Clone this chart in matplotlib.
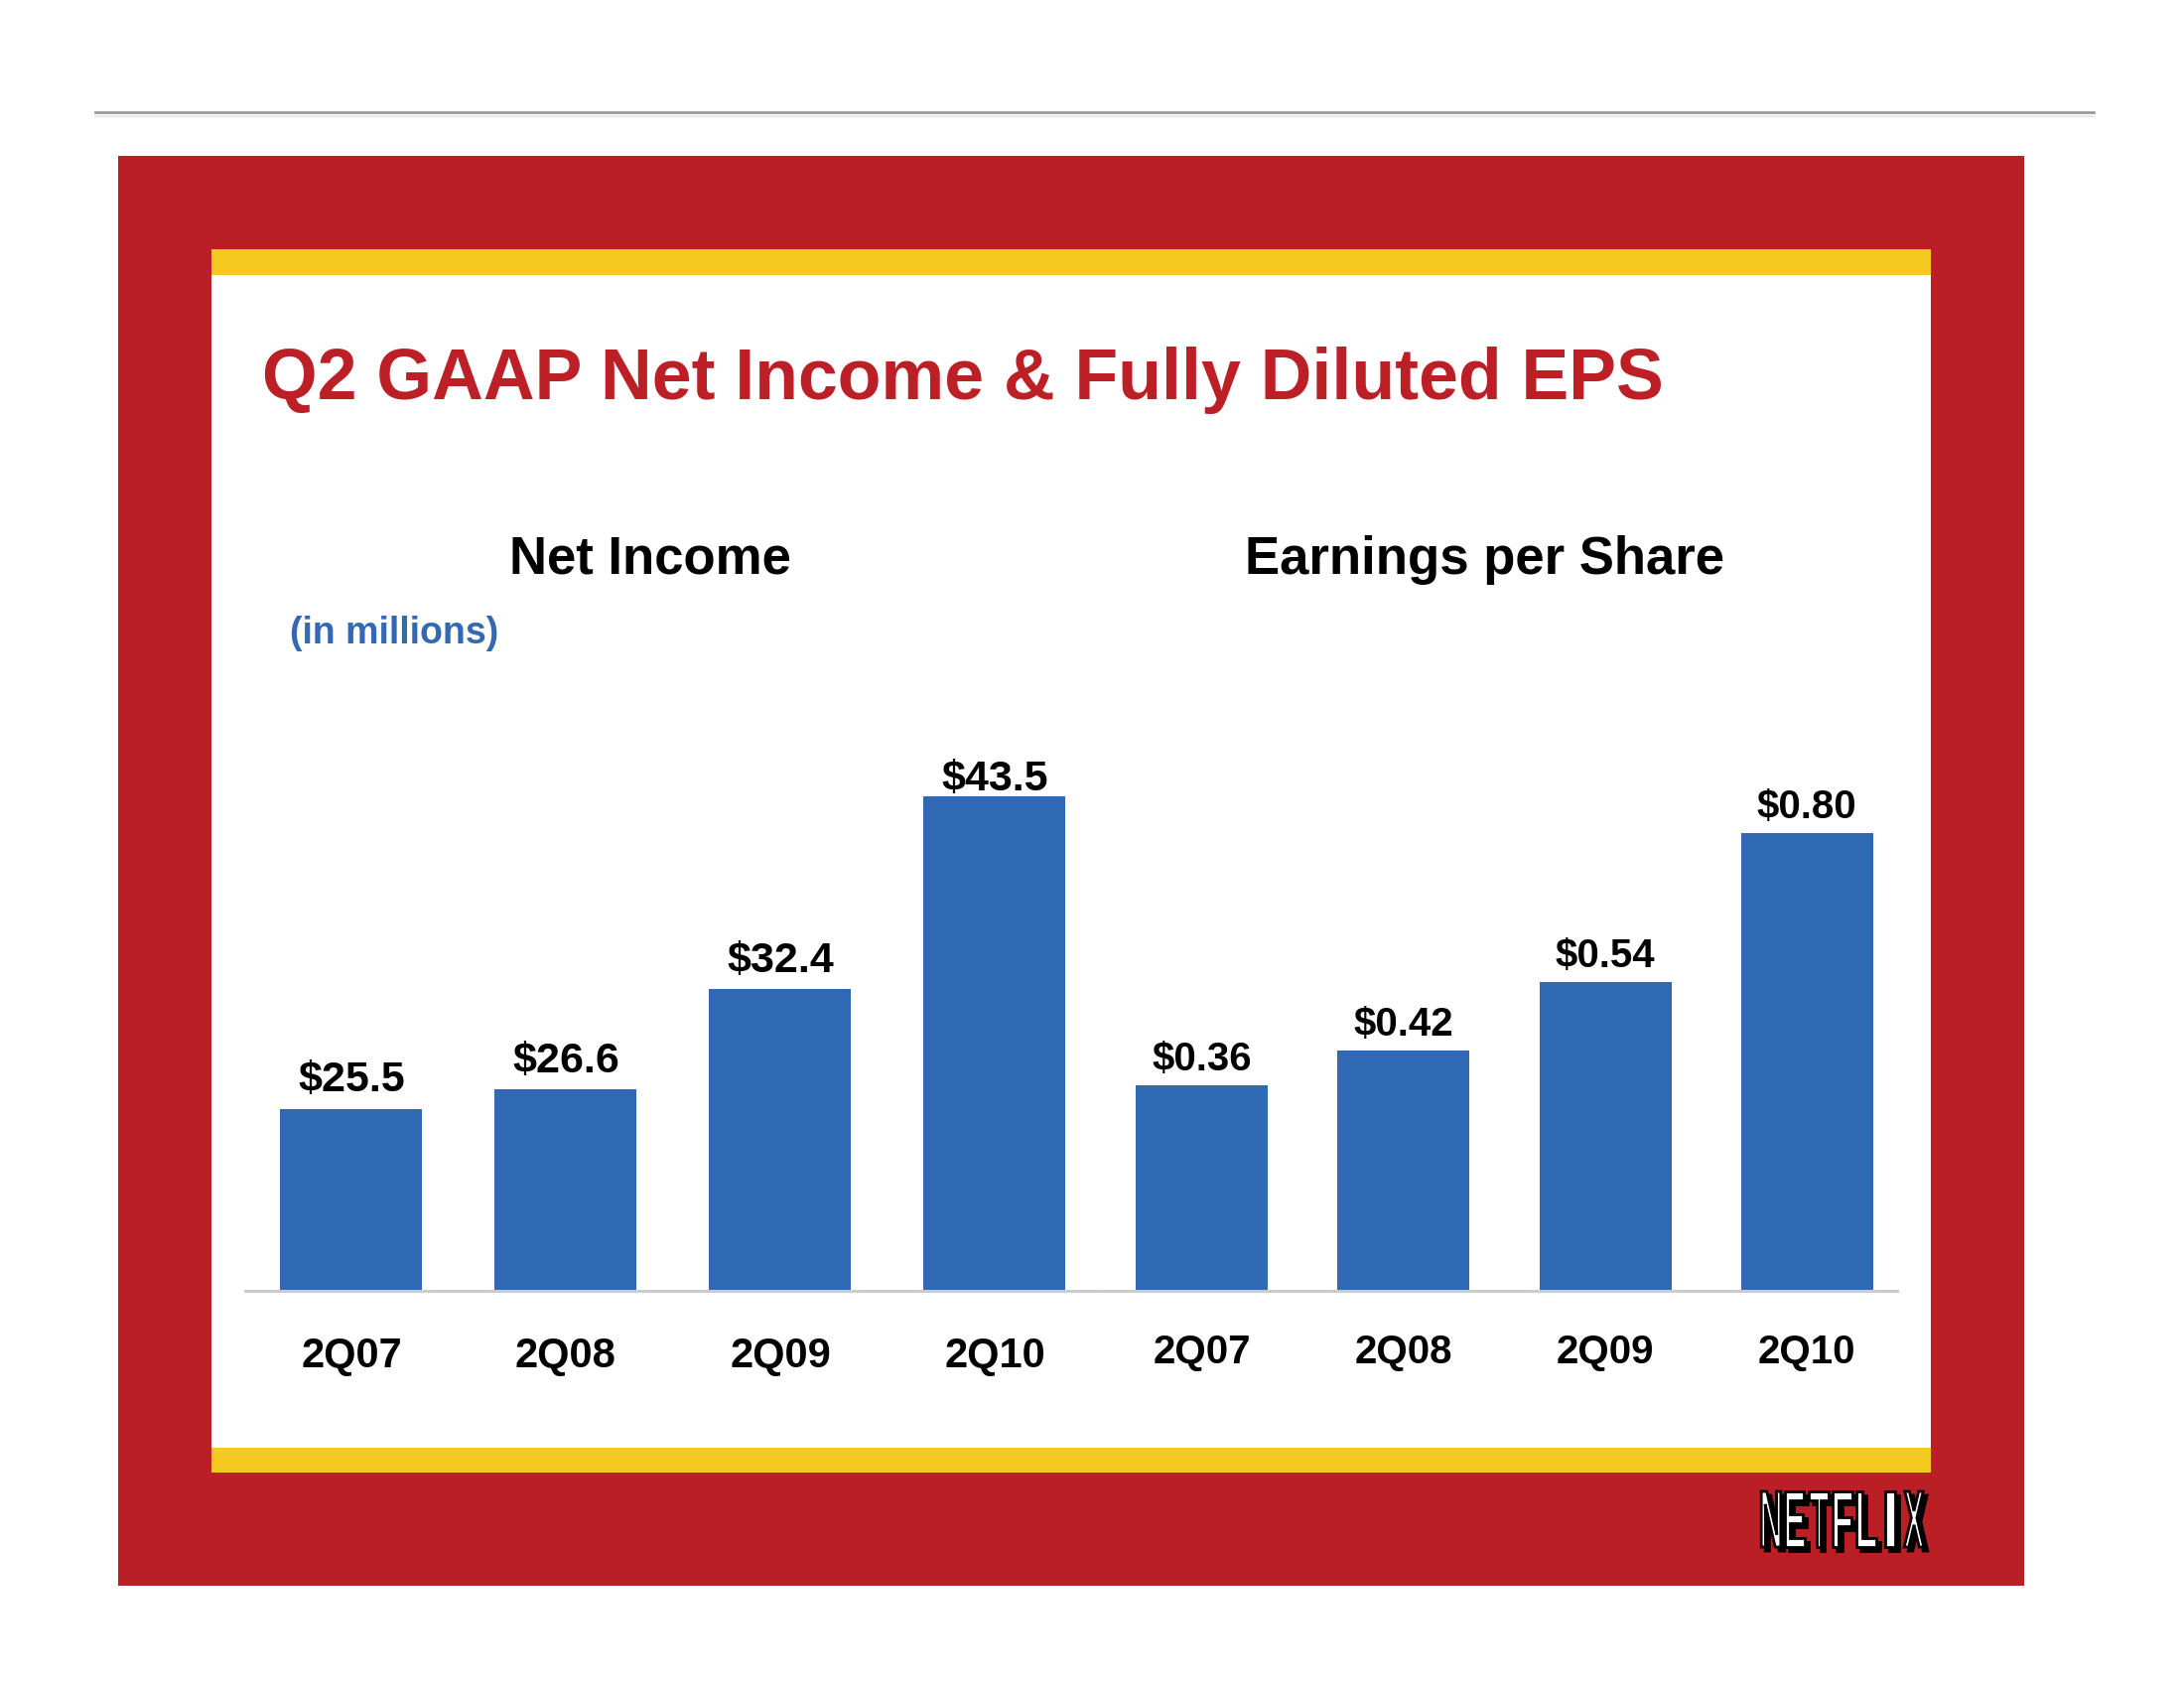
import matplotlib
matplotlib.use("Agg")
import numpy as np
import matplotlib.pyplot as plt
from matplotlib.patches import Rectangle, PathPatch
from matplotlib.lines import Line2D
from matplotlib.textpath import TextPath
from matplotlib.font_manager import FontProperties
from matplotlib.transforms import Affine2D

# data
quarters = ["2Q07", "2Q08", "2Q09", "2Q10"]
net_income = [25.5, 26.6, 32.4, 43.5]          # $ millions
eps = [0.36, 0.42, 0.54, 0.80]                 # $ per share
income_labels = ["$25.5", "$26.6", "$32.4", "$43.5"]
eps_labels = ["$0.36", "$0.42", "$0.54", "$0.80"]

RED = "#BA1F25"
YELLOW = "#F4CA20"
BAR = "#2F69B3"

plt.rcParams["font.family"] = ["Liberation Sans", "DejaVu Sans"]

W, H = 2200, 1700
fig = plt.figure(figsize=(11, 8.5), dpi=200)


def px_rect(left, top, right, bottom):
    # pixel box (y down) -> figure fraction rect
    return [left / W, 1 - bottom / H, (right - left) / W, (bottom - top) / H]


# slide background, drawn in pixel coords
bg = fig.add_axes([0, 0, 1, 1], zorder=0)
bg.set_xlim(0, W)
bg.set_ylim(H, 0)
bg.axis("off")

bg.add_line(Line2D([96, 2109], [113, 113], color="#9a9a9a", lw=1.0))
bg.add_line(Line2D([96, 2109], [117, 117], color="#e8e8e8", lw=0.8))
bg.add_patch(Rectangle((119, 157), 2039 - 119, 1597 - 157, color=RED, lw=0))
bg.add_patch(Rectangle((213, 251), 1945 - 213, 1483 - 251, color=YELLOW, lw=0))
bg.add_patch(Rectangle((213, 277), 1945 - 213, 1458 - 277, color="white", lw=0))

bg.text(264, 402, "Q2 GAAP Net Income & Fully Diluted EPS", color="#BC2026",
        fontsize=25.8, fontweight="bold", va="baseline")
bg.text(655, 578, "Net Income", fontsize=19, fontweight="bold",
        ha="center", va="baseline")
bg.text(1496, 578, "Earnings per Share", fontsize=19, fontweight="bold",
        ha="center", va="baseline")
bg.text(292, 638, "(in millions)", color="#3368B5", fontsize=13.5,
        fontweight="bold", va="center")

# netflix wordmark: squeezed bold letters with a black drop shadow
prop = FontProperties(family="Liberation Sans", weight="bold")
logo = "NETFLIX"
lx0, lx1, ltop, lbot = 1772, 1940, 1502, 1558
cell = (lx1 - lx0) / len(logo)
for i, ch in enumerate(logo):
    tp = TextPath((0, 0), ch, size=1, prop=prop)
    ext = tp.get_extents()
    w = cell * (0.45 if ch == "I" else 0.82)
    sx = w / ext.width
    sy = (lbot - ltop) / ext.height
    cx = lx0 + cell * (i + 0.5)
    for dx, dy, fc in [(4, 4, "black"), (0, 0, "white")]:
        tr = (Affine2D().translate(-ext.x0 - ext.width / 2, -ext.y0)
              .scale(sx, -sy).translate(cx + dx, lbot + dy) + bg.transData)
        bg.add_patch(PathPatch(tp, transform=tr, facecolor=fc,
                               edgecolor="black", lw=1.0))

x = np.arange(len(quarters))

# left panel: net income (axis does not start at zero on the slide)
ax1 = fig.add_axes(px_rect(247, 700, 1108, 1300), zorder=1)
ax1.bar(x, net_income, width=0.662, color=BAR)
ax1.set_xlim(-0.495, 3.491)
ax1.set_ylim(15, 49.34)
for xi, v, lab in zip(x, net_income, income_labels):
    pad = -1 if v == max(net_income) else 3
    ax1.annotate(lab, (xi, v), xytext=(0, pad), textcoords="offset points",
                 ha="center", va="bottom", fontsize=15.5, fontweight="bold")
ax1.set_xticks(x, quarters, fontsize=15, fontweight="bold")
ax1.tick_params(axis="x", length=0, pad=16.5)

# right panel: EPS
ax2 = fig.add_axes(px_rect(1108, 700, 1911, 1300), zorder=1)
ax2.bar(x, eps, width=0.655, color=BAR)
ax2.set_xlim(-0.507, 3.448)
ax2.set_ylim(0, 1.0417)
for xi, v, lab in zip(x, eps, eps_labels):
    ax2.annotate(lab, (xi, v), xytext=(0, 2.5), textcoords="offset points",
                 ha="center", va="bottom", fontsize=14.5, fontweight="bold")
ax2.set_xticks(x, quarters, fontsize=14.5, fontweight="bold")
ax2.tick_params(axis="x", length=0, pad=15.5)

for ax in (ax1, ax2):
    ax.set_facecolor("none")
    for s in ("top", "left", "right"):
        ax.spines[s].set_visible(False)
    ax.spines["bottom"].set_color("#cccccc")
    ax.spines["bottom"].set_linewidth(1.1)
    ax.set_yticks([])

fig.savefig("out.png", dpi=200)
